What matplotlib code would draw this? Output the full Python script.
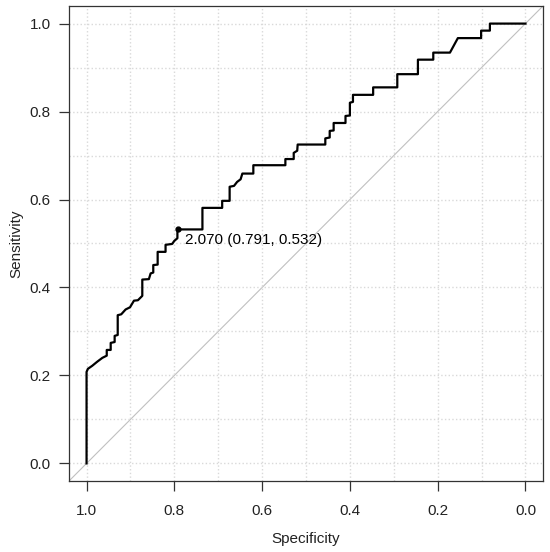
# ROC curve (pROC style) redrawn with matplotlib
import matplotlib
matplotlib.use('Agg')
import matplotlib.pyplot as plt
from matplotlib.ticker import MultipleLocator, FormatStrFormatter

plt.rcParams['font.family'] = ['Liberation Sans', 'DejaVu Sans']

# curve vertices (specificity, sensitivity)
specificity = [1.0, 1.0, 0.997, 0.987, 0.976, 0.964, 0.954, 0.954, 0.945, 0.945,
               0.936, 0.936, 0.929, 0.929, 0.921, 0.911, 0.901, 0.892, 0.883, 0.873,
               0.873, 0.858, 0.854, 0.848, 0.848, 0.838, 0.838, 0.820, 0.820, 0.805,
               0.800, 0.793, 0.793, 0.791, 0.736, 0.736, 0.691, 0.691, 0.674, 0.674,
               0.664, 0.657, 0.649, 0.645, 0.620, 0.620, 0.547, 0.547, 0.528, 0.528,
               0.520, 0.519, 0.456, 0.456, 0.446, 0.446, 0.437, 0.437, 0.410, 0.410,
               0.400, 0.400, 0.393, 0.393, 0.347, 0.347, 0.292, 0.292, 0.245, 0.245,
               0.210, 0.210, 0.172, 0.154, 0.101, 0.101, 0.081, 0.081, 0.0]
sensitivity = [0.0, 0.208, 0.215, 0.222, 0.231, 0.240, 0.245, 0.258, 0.258, 0.274,
               0.276, 0.290, 0.292, 0.337, 0.339, 0.350, 0.355, 0.370, 0.371, 0.381,
               0.418, 0.419, 0.432, 0.434, 0.451, 0.452, 0.481, 0.481, 0.497, 0.499,
               0.506, 0.512, 0.525, 0.532, 0.532, 0.581, 0.581, 0.597, 0.597, 0.629,
               0.631, 0.640, 0.646, 0.659, 0.659, 0.678, 0.678, 0.692, 0.692, 0.706,
               0.711, 0.725, 0.725, 0.739, 0.741, 0.756, 0.757, 0.774, 0.774, 0.790,
               0.791, 0.820, 0.822, 0.838, 0.838, 0.855, 0.855, 0.885, 0.885, 0.918,
               0.918, 0.934, 0.934, 0.967, 0.967, 0.984, 0.984, 1.0, 1.0]

# best threshold
thr_value = 2.070
thr_spec = 0.791
thr_sens = 0.532

fig = plt.figure(figsize=(5.5, 5.52), dpi=100)
ax = fig.add_axes([69 / 550, 71 / 552, 474 / 550, 475 / 552])

ax.set_xlim(1.04, -0.04)
ax.set_ylim(-0.04, 1.04)

# grid every 0.1, dotted
ax.xaxis.set_minor_locator(MultipleLocator(0.1))
ax.yaxis.set_minor_locator(MultipleLocator(0.1))
ax.grid(which='both', color='#d9d9d9', linestyle=':', linewidth=1.0, zorder=0)
ax.tick_params(which='minor', length=0)

# chance diagonal
ax.axline((1, 0), (0, 1), color='#c0c0c0', linewidth=0.8, zorder=1)

ax.plot(specificity, sensitivity, color='black', linewidth=1.6, zorder=3)
ax.plot([thr_spec], [thr_sens], 'o', color='black', markersize=3.5, zorder=4)
ax.annotate('%.3f (%.3f, %.3f)' % (thr_value, thr_spec, thr_sens),
            xy=(thr_spec, thr_sens), xytext=(5, -7.8), textcoords='offset points',
            ha='left', va='center', fontsize=11, color='black')

ax.xaxis.set_major_locator(MultipleLocator(0.2))
ax.yaxis.set_major_locator(MultipleLocator(0.2))
ax.xaxis.set_major_formatter(FormatStrFormatter('%.1f'))
ax.yaxis.set_major_formatter(FormatStrFormatter('%.1f'))
ax.tick_params(which='major', length=7, width=0.9, pad=6, labelsize=11,
               color='#333333', labelcolor='#222222')
ax.tick_params(axis='x', which='major', pad=9.5)
ax.set_xlabel('Specificity', fontsize=11, labelpad=10.5, color='#222222')
ax.set_ylabel('Sensitivity', fontsize=11, labelpad=4.5, color='#222222')

for s in ax.spines.values():
    s.set_linewidth(0.9)
    s.set_color('#333333')

fig.savefig('out.png', dpi=100)
